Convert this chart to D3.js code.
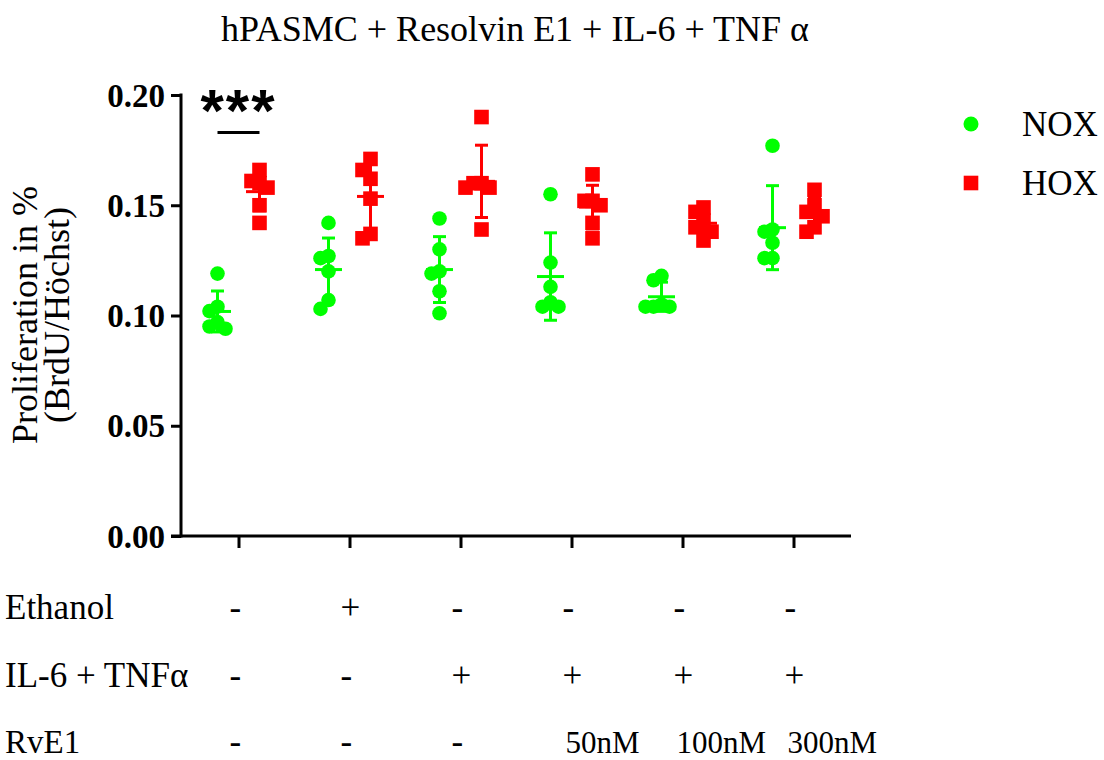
<!DOCTYPE html>
<html>
<head>
<meta charset="utf-8">
<script src="https://cdn.jsdelivr.net/npm/d3@7"></script>
<style>
  body { margin: 0; background: #fff; }
  text { font-family: "Liberation Serif", "Times New Roman", serif; fill: #000; }
</style>
</head>
<body>
<div id="chart"></div>
<script>
const W = 1104, H = 760;

// --- data ---
const groups = ["A", "B", "C", "D", "E", "F"];
const ethanolRow = ["-", "+", "-", "-", "-", "-"];
const cytokineRow = ["-", "-", "+", "+", "+", "+"];
const rve1Row = ["-", "-", "-", "50nM", "100nM", "300nM"];
const rowLabels = ["Ethanol", "IL-6 + TNFα", "RvE1"];
const seriesNames = ["NOX", "HOX"];
const noxValues = [
    [0.119, 0.104, 0.102, 0.097, 0.095, 0.094],
    [0.142, 0.127, 0.126, 0.120, 0.107, 0.103],
    [0.144, 0.130, 0.120, 0.119, 0.111, 0.101],
    [0.155, 0.124, 0.113, 0.106, 0.104, 0.104],
    [0.118, 0.116, 0.105, 0.104, 0.104, 0.104],
    [0.177, 0.139, 0.138, 0.133, 0.126, 0.126]
];
const hoxValues = [
    [0.166, 0.161, 0.160, 0.158, 0.150, 0.142],
    [0.171, 0.166, 0.162, 0.153, 0.137, 0.135],
    [0.190, 0.160, 0.160, 0.158, 0.158, 0.139],
    [0.164, 0.152, 0.152, 0.150, 0.142, 0.135],
    [0.149, 0.147, 0.143, 0.140, 0.138, 0.134],
    [0.157, 0.150, 0.147, 0.145, 0.140, 0.138]
];
const yTicks = [0, 0.05, 0.10, 0.15, 0.20];
const sigGroup = "A", sigLabel = "***";

const green = "#00ff00", red = "#ff0000";

const svg = d3.select("#chart").append("svg")
    .attr("width", W)
    .attr("height", H);

svg.append("rect").attr("width", W).attr("height", H).attr("fill", "#fff");

const x = d3.scalePoint()
    .domain(groups)
    .range([181, 851])
    .padding(0.518);

const y = d3.scaleLinear()
    .domain([0, 0.2])
    .range([536, 95]);

const offset = 21;

// title
svg.append("text")
    .attr("x", 515)
    .attr("y", 41)
    .attr("text-anchor", "middle")
    .style("font-size", "36px")
    .text("hPASMC + Resolvin E1 + IL-6 + TNF α");

// axes
const yAxis = d3.axisLeft(y)
    .tickValues(yTicks)
    .tickSize(10)
    .tickSizeOuter(0)
    .tickPadding(6)
    .tickFormat(d3.format(".2f"));

const gy = svg.append("g")
    .attr("transform", "translate(181,0)")
    .call(yAxis);
gy.select(".domain").attr("stroke-width", 3).attr("d", `M0,${y(0) + 1.5}V${y(0.2) - 1.5}`);
gy.selectAll(".tick line").attr("stroke-width", 3);
gy.selectAll(".tick text")
    .style("font-family", "'Liberation Serif', serif")
    .style("font-weight", "bold")
    .style("font-size", "33px")
    .attr("dy", "0.34em");

const xAxis = d3.axisBottom(x)
    .tickSize(12)
    .tickSizeOuter(0)
    .tickFormat("");

const gx = svg.append("g")
    .attr("transform", `translate(0,${y(0)})`)
    .call(xAxis);
gx.select(".domain").attr("stroke-width", 3).attr("d", "M171,0H851");
gx.selectAll(".tick line").attr("stroke-width", 3);

// y axis title
const yTitle = svg.append("text")
    .attr("transform", "translate(37,315) rotate(-90)")
    .attr("text-anchor", "middle")
    .style("font-size", "36px");
yTitle.append("tspan").attr("x", 0).attr("y", 0).text("Proliferation in %");
yTitle.append("tspan").attr("x", 0).attr("y", 32).text("(BrdU/Höchst)");

// simple beeswarm to spread overlapping points sideways
function swarm(vals, cx, step, thr) {
    const pts = vals.map(v => ({ v, y: y(v) })).sort((a, b) => a.y - b.y);
    const placed = [];
    pts.forEach(p => {
        p.dx = 0;
        for (const k of [0, -1, 1, -2, 2, -3, 3]) {
            const dx = k * step;
            if (placed.every(q => Math.abs(q.y - p.y) >= thr || Math.abs(q.dx - dx) >= step)) {
                p.dx = dx;
                break;
            }
        }
        placed.push(p);
    });
    return pts.map(p => ({ v: p.v, x: cx + p.dx, y: p.y }));
}

const series = [
    { name: "NOX", values: noxValues, color: green, shift: -offset, shape: "circle" },
    { name: "HOX", values: hoxValues, color: red, shift: offset, shape: "square" }
];

series.forEach(s => {
    groups.forEach((g, i) => {
        const vals = s.values[i];
        const cx = x(g) + s.shift;
        const pts = swarm(vals, cx, 8, 12);
        const gg = svg.append("g");

        if (s.shape === "circle") {
            gg.selectAll("circle")
                .data(pts)
                .enter()
                .append("circle")
                .attr("cx", d => d.x)
                .attr("cy", d => d.y)
                .attr("r", 7.3)
                .attr("fill", s.color);
        } else {
            gg.selectAll("rect")
                .data(pts)
                .enter()
                .append("rect")
                .attr("x", d => d.x - 7.3)
                .attr("y", d => d.y - 7.3)
                .attr("width", 14.6)
                .attr("height", 14.6)
                .attr("fill", s.color);
        }

        const m = d3.mean(vals), sd = d3.deviation(vals);
        gg.append("line")
            .attr("x1", cx).attr("x2", cx)
            .attr("y1", y(m + sd)).attr("y2", y(m - sd))
            .attr("stroke", s.color).attr("stroke-width", 3);
        [m + sd, m - sd].forEach(v => {
            gg.append("line")
                .attr("x1", cx - 6.5).attr("x2", cx + 6.5)
                .attr("y1", y(v)).attr("y2", y(v))
                .attr("stroke", s.color).attr("stroke-width", 3);
        });
        gg.append("line")
            .attr("x1", cx - 13.5).attr("x2", cx + 13.5)
            .attr("y1", y(m)).attr("y2", y(m))
            .attr("stroke", s.color).attr("stroke-width", 3);
    });
});

// significance mark
const sx = x(sigGroup);
svg.append("line")
    .attr("x1", sx - offset).attr("x2", sx + offset)
    .attr("y1", y(0.183)).attr("y2", y(0.183))
    .attr("stroke", "#000").attr("stroke-width", 3);
svg.append("text")
    .attr("x", sx)
    .attr("y", y(0.183) - 1)
    .attr("text-anchor", "middle")
    .style("font-family", "'Liberation Sans', Arial, sans-serif")
    .style("font-weight", "bold")
    .style("font-size", "60px")
    .style("letter-spacing", "2px")
    .text(sigLabel);

// legend
const legend = svg.selectAll(".legend")
    .data(series)
    .enter().append("g")
    .attr("class", "legend")
    .attr("transform", (d, i) => `translate(971,${124 + i * 59})`);
legend.filter(d => d.shape === "circle").append("circle")
    .attr("r", 7.5)
    .attr("fill", d => d.color);
legend.filter(d => d.shape === "square").append("rect")
    .attr("x", -7.3).attr("y", -7.3)
    .attr("width", 14.6).attr("height", 14.6)
    .attr("fill", d => d.color);
legend.append("text")
    .attr("x", 51)
    .attr("y", 12)
    .style("font-size", "35px")
    .text(d => d.name);

// condition table under the axis
const rows = [ethanolRow, cytokineRow, rve1Row];
const rowY = [619, 687, 753];
rows.forEach((row, r) => {
    svg.append("text")
        .attr("x", 5)
        .attr("y", rowY[r])
        .style("font-size", r === 2 ? "33px" : "35px")
        .text(rowLabels[r]);
    svg.selectAll(null)
        .data(row)
        .enter()
        .append("text")
        .attr("x", (d, i) => x(groups[i]) - (d.length > 1 ? 6 : 9))
        .attr("y", rowY[r])
        .style("font-size", d => d.length > 1 ? "31px" : "35px")
        .text(d => d);
});
</script>
</body>
</html>
